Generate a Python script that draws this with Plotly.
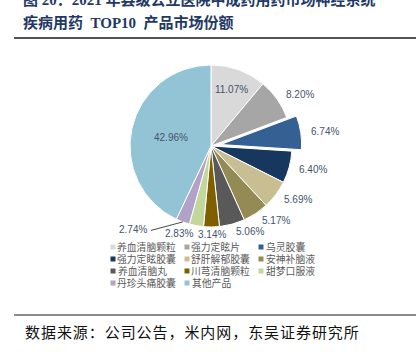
import math
import plotly.graph_objects as go

labels = ["养血清脑颗粒", "强力定眩片", "乌灵胶囊", "强力定眩胶囊", "舒肝解郁胶囊",
          "安神补脑液", "养血清脑丸", "川芎清脑颗粒", "甜梦口服液", "丹珍头痛胶囊", "其他产品"]
values = [11.07, 8.20, 6.74, 6.40, 5.69, 5.17, 5.06, 3.14, 2.83, 2.74, 42.96]
colors = ["#D9D9D9", "#A6A6A6", "#346094", "#17375E", "#C9BE91", "#948A54",
          "#595959", "#7F6000", "#C3D69B", "#B3A2C7", "#93C4D6"]
pulls = [0, 0, 0.12, 0, 0, 0, 0, 0, 0, 0, 0]
positions = ["inside", "outside", "outside", "outside", "outside", "outside",
             "outside", "outside", "outside", "outside", "inside"]

W, H = 420, 355
cx, cy, r = 211, 146, 81
half = r * (1 + max(pulls))
LABEL_COLOR = "#44546A"
LABEL_FONT = dict(family="Liberation Sans, Arial", size=10, color=LABEL_COLOR)

fig = go.Figure(go.Pie(
    labels=labels, values=values, sort=False, direction="clockwise", rotation=0,
    marker=dict(colors=colors, line=dict(color="white", width=1)),
    pull=pulls,
    textposition=["inside" if p == "inside" else "none" for p in positions],
    insidetextorientation="horizontal",
    texttemplate="%{value:.2f}%",
    insidetextfont=LABEL_FONT,
    domain=dict(x=[(cx - half) / W, (cx + half) / W],
                y=[(H - cy - half) / H, (H - cy + half) / H]),
    hoverinfo="label+percent",
    showlegend=False,
))

shapes = [
    dict(type="line", xref="paper", yref="paper", x0=14 / W, x1=416 / W,
         y0=(H - 38) / H, y1=(H - 38) / H, line=dict(color="#1a1a1a", width=1.5)),
    dict(type="line", xref="paper", yref="paper", x0=14 / W, x1=416 / W,
         y0=(H - 315) / H, y1=(H - 315) / H, line=dict(color="#1a1a1a", width=1.2)),
]
src = "数据来源：公司公告，米内网，东吴证券研究所"
annotations = [
    dict(text="<b>图 20：2021 年县级公立医院中成药用药市场神经系统</b>", xref="paper", yref="paper",
         x=21 / W, y=(H + 1) / H, xanchor="left", yanchor="middle", showarrow=False,
         font=dict(family="Liberation Serif, Noto Sans CJK SC", size=15, color="#1F3864")),
    dict(text="<b>疾病用药  TOP10  产品市场份额</b>", xref="paper", yref="paper",
         x=21 / W, y=(H - 22) / H, xanchor="left", yanchor="middle", showarrow=False,
         font=dict(family="Liberation Serif, Noto Sans CJK SC", size=15, color="#1F3864")),
    dict(text="\u200a".join(src), xref="paper", yref="paper",
         x=192 / W, y=(H - 331) / H, xanchor="center", yanchor="middle", showarrow=False,
         font=dict(family="Noto Sans CJK SC", size=15, color="#111111")),
]

# outside data labels placed from the slice geometry (clockwise from 12 o'clock)
total = sum(values)
cum = 0.0
prev_right_box = None
TW, TH, GAP = 28, 12, 18
for i, v in enumerate(values):
    theta = 2 * math.pi * (cum + v / 2) / total
    cum += v
    if positions[i] != "outside":
        continue
    s, c = math.sin(theta), math.cos(theta)
    R = r * (1 + pulls[i])
    px, py = cx + R * s, cy - R * c
    lx, ly = cx + (R + 8) * s, cy - (R + 8) * c
    anchor = "left" if s > 0.1 else ("right" if s < -0.1 else "center")
    leader = False
    if anchor == "right":
        box = (lx - TW, lx, ly - TH / 2, ly + TH / 2)
        if prev_right_box is not None:
            bx0, bx1, by0, by1 = prev_right_box
            if box[0] < bx1 and box[1] > bx0 and box[2] < by1 and box[3] > by0:
                lx = bx0 - GAP
                box = (lx - TW, lx, ly - TH / 2, ly + TH / 2)
                leader = True
        prev_right_box = box
    if leader:
        shapes.append(dict(type="line", xref="paper", yref="paper",
                           x0=(lx + 2) / W, y0=(H - ly - 1) / H, x1=px / W, y1=(H - py) / H,
                           line=dict(color="#1a1a1a", width=0.8)))
    annotations.append(dict(text=f"{v:.2f}%", xref="paper", yref="paper",
                            x=lx / W, y=(H - ly) / H, xanchor=anchor, yanchor="middle",
                            showarrow=False, font=LABEL_FONT))

# legend: 3 columns, row-major order
col_x = [113, 187, 261]
row_y0, row_dy = 247, 12
fs = 9.8
for i, (lab, col) in enumerate(zip(labels, colors)):
    x = col_x[i % 3]
    y = row_y0 + row_dy * (i // 3)
    shapes.append(dict(type="rect", xref="paper", yref="paper",
                       x0=(x - 2.5) / W, x1=(x + 2.5) / W,
                       y0=(H - y - 2.5) / H, y1=(H - y + 2.5) / H,
                       fillcolor=col, line=dict(width=0)))
    tx = x + 4.5 + len(lab) * fs / 2
    annotations.append(dict(text=lab, xref="paper", yref="paper",
                            x=tx / W, y=(H - y) / H, xanchor="center", yanchor="middle",
                            showarrow=False,
                            font=dict(family="Noto Sans CJK SC", size=fs, color="#595959")))

fig.update_layout(
    width=W, height=H, margin=dict(l=0, r=0, t=0, b=0),
    paper_bgcolor="white", plot_bgcolor="white",
    showlegend=False, shapes=shapes, annotations=annotations,
)

fig.write_html("out.html", config={"displayModeBar": False},
               post_script="document.body.style.margin='0';document.body.style.overflow='hidden';")
